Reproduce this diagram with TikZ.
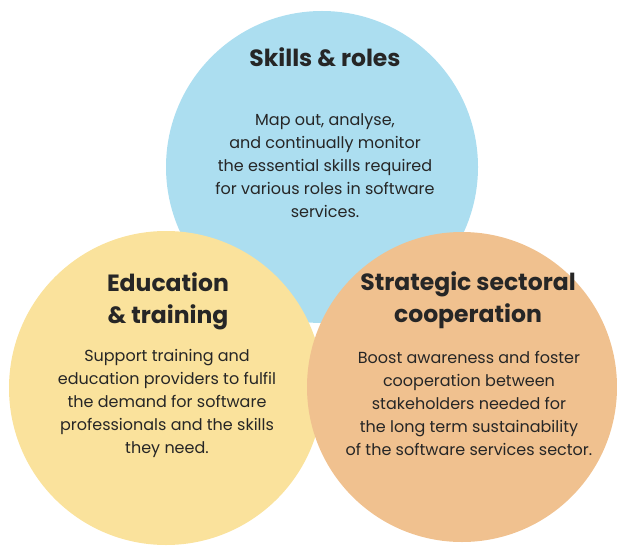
\documentclass[tikz,border=0pt]{standalone}
\usepackage{fontspec}
\setmainfont{Poppins}
\definecolor{skillblue}{HTML}{ACDEF0}
\definecolor{eduyellow}{HTML}{FAE29C}
\definecolor{coorange}{HTML}{F0C18F}
\definecolor{inktext}{HTML}{262626}
\tikzset{
  disc/.style={circle, inner sep=0pt, minimum size=#1, draw=none},
  heading/.style={align=center, text=inktext, inner sep=0pt,
    font=\fontsize{23.5}{32}\selectfont\bfseries},
  bodytext/.style={align=center, text=inktext, inner sep=0pt,
    font=\fontsize{16}{23}\selectfont}
}
\begin{document}
\begin{tikzpicture}[x=1pt, y=-1pt]
  \useasboundingbox (0,0) rectangle (617,545);
  % the three overlapping discs
  \node[disc=312pt, fill=skillblue]  (skills) at (322,167) {};
  \node[disc=314pt, fill=eduyellow]  (edu)    at (166,388) {};
  \node[disc=310pt, fill=coorange]   (coop)   at (462,387) {};
  % skills & roles
  \node[heading]  (skillsT) at (325,57)  {Skills \& roles};
  \node[bodytext] (skillsB) at (325,166) {Map out, analyse,\\and continually monitor\\the essential skills required\\for various roles in software\\services.};
  % education & training
  \node[heading]  (eduT) at (168,301) {Education\\\& training};
  \node[bodytext] (eduB) at (167,403.5) {Support training and\\education providers to fulfil\\the demand for software\\professionals and the skills\\they need.};
  % strategic sectoral cooperation
  \node[heading]  (coopT) at (468,300.5) {Strategic sectoral\\cooperation};
  \node[bodytext] (coopB) at (469,403.5) {Boost awareness and foster\\cooperation between\\stakeholders needed for\\the long term sustainability\\of the software services sector.};
\end{tikzpicture}
\end{document}
